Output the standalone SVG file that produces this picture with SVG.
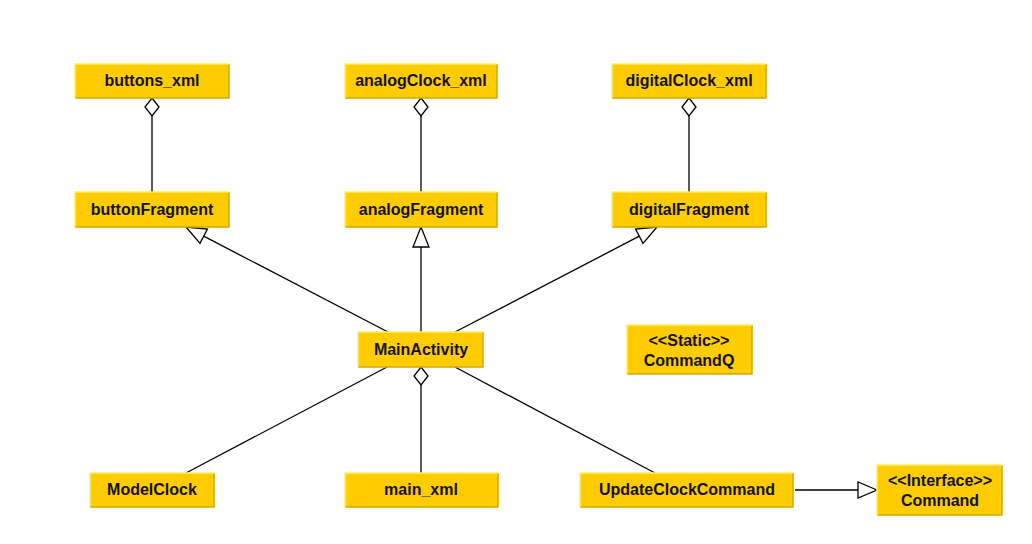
<svg xmlns="http://www.w3.org/2000/svg" width="1032" height="544" viewBox="0 0 1032 544">
<style>
.box{fill:#ffcc00;stroke:none}
.hl{stroke:#fff06a;stroke-width:1.5;fill:none}
.sh{stroke:#d2a800;stroke-width:1.5;fill:none}
.t{font-family:"Liberation Sans",Arial,sans-serif;font-weight:bold;font-size:16px;fill:#111;text-anchor:middle}
.c{stroke:#000;stroke-width:1.3;fill:none}
.open{fill:#fff;stroke:#000;stroke-width:1.3}
</style>
<rect width="1032" height="544" fill="#fff"/>

<g id="connectors">
<line class="c" x1="152" y1="116" x2="152" y2="192"/>
<polygon class="open" points="152,98 159,107 152,116 145,107"/>
<line class="c" x1="421" y1="116" x2="421" y2="192"/>
<polygon class="open" points="421,98 428,107 421,116 414,107"/>
<line class="c" x1="689" y1="116" x2="689" y2="192"/>
<polygon class="open" points="689,98 696,107 689,116 682,107"/>

<line class="c" x1="388" y1="332" x2="203.7" y2="236.2"/>
<polygon class="open" points="186,227 207.4,229.1 200,243.3"/>
<line class="c" x1="421" y1="332" x2="421" y2="247"/>
<polygon class="open" points="421,227 429,247 413,247"/>
<line class="c" x1="455" y1="332" x2="639.3" y2="236.2"/>
<polygon class="open" points="657,227 635.6,229.1 643,243.3"/>

<line class="c" x1="387" y1="367" x2="186" y2="473"/>
<line class="c" x1="421" y1="385" x2="421" y2="473"/>
<polygon class="open" points="421,367 428,376 421,385 414,376"/>
<line class="c" x1="455" y1="367" x2="655" y2="473"/>

<line class="c" x1="795" y1="490" x2="858" y2="490"/>
<polygon class="open" points="877,490 858,482 858,498"/>
</g>

<g id="buttons_xml">
<rect class="box" x="75" y="64" width="154" height="34"/>
<polyline class="sh" points="75,98 229,98 229,64"/>
<polyline class="hl" points="75,98 75,64 229,64"/>
<text class="t" x="152" y="86">buttons_xml</text>
</g>
<g id="analogClock_xml">
<rect class="box" x="345" y="64" width="152" height="34"/>
<polyline class="sh" points="345,98 497,98 497,64"/>
<polyline class="hl" points="345,98 345,64 497,64"/>
<text class="t" x="421" y="86">analogClock_xml</text>
</g>
<g id="digitalClock_xml">
<rect class="box" x="612" y="64" width="154" height="34"/>
<polyline class="sh" points="612,98 766,98 766,64"/>
<polyline class="hl" points="612,98 612,64 766,64"/>
<text class="t" x="689" y="86">digitalClock_xml</text>
</g>

<g id="buttonFragment">
<rect class="box" x="75" y="192" width="154" height="35"/>
<polyline class="sh" points="75,227 229,227 229,192"/>
<polyline class="hl" points="75,227 75,192 229,192"/>
<text class="t" x="152" y="215">buttonFragment</text>
</g>
<g id="analogFragment">
<rect class="box" x="345" y="192" width="152" height="35"/>
<polyline class="sh" points="345,227 497,227 497,192"/>
<polyline class="hl" points="345,227 345,192 497,192"/>
<text class="t" x="421" y="215">analogFragment</text>
</g>
<g id="digitalFragment">
<rect class="box" x="612" y="192" width="154" height="35"/>
<polyline class="sh" points="612,227 766,227 766,192"/>
<polyline class="hl" points="612,227 612,192 766,192"/>
<text class="t" x="689" y="215">digitalFragment</text>
</g>

<g id="MainActivity">
<rect class="box" x="358" y="332" width="125" height="35"/>
<polyline class="sh" points="358,367 483,367 483,332"/>
<polyline class="hl" points="358,367 358,332 483,332"/>
<text class="t" x="421" y="355">MainActivity</text>
</g>
<g id="CommandQ">
<rect class="box" x="627" y="325" width="125" height="49"/>
<polyline class="sh" points="627,374 752,374 752,325"/>
<polyline class="hl" points="627,374 627,325 752,325"/>
<text class="t" x="689" y="346">&lt;&lt;Static&gt;&gt;</text>
<text class="t" x="689" y="366">CommandQ</text>
</g>

<g id="ModelClock">
<rect class="box" x="90" y="473" width="124" height="34"/>
<polyline class="sh" points="90,507 214,507 214,473"/>
<polyline class="hl" points="90,507 90,473 214,473"/>
<text class="t" x="152" y="495">ModelClock</text>
</g>
<g id="main_xml">
<rect class="box" x="345" y="473" width="153" height="34"/>
<polyline class="sh" points="345,507 498,507 498,473"/>
<polyline class="hl" points="345,507 345,473 498,473"/>
<text class="t" x="421" y="495">main_xml</text>
</g>
<g id="UpdateClockCommand">
<rect class="box" x="580" y="473" width="213" height="34"/>
<polyline class="sh" points="580,507 793,507 793,473"/>
<polyline class="hl" points="580,507 580,473 793,473"/>
<text class="t" x="687" y="495">UpdateClockCommand</text>
</g>
<g id="Command">
<rect class="box" x="877" y="465" width="125" height="50"/>
<polyline class="sh" points="877,515 1002,515 1002,465"/>
<polyline class="hl" points="877,515 877,465 1002,465"/>
<text class="t" x="940" y="486">&lt;&lt;Interface&gt;&gt;</text>
<text class="t" x="940" y="506">Command</text>
</g>
</svg>
